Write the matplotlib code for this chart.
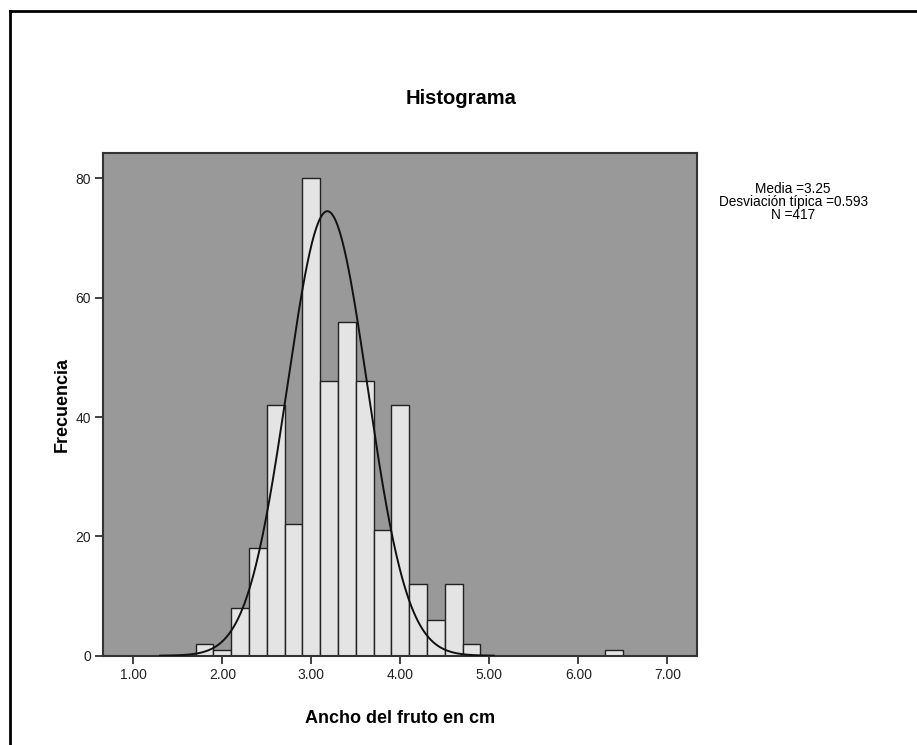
import numpy as np
import matplotlib
matplotlib.use("Agg")
import matplotlib.pyplot as plt
from matplotlib.lines import Line2D

plt.rcParams['font.family'] = ['Liberation Sans', 'DejaVu Sans']

# bins of width 0.2 (left edges) and their counts
bin_left = [1.7, 1.9, 2.1, 2.3, 2.5, 2.7, 2.9, 3.1, 3.3, 3.5, 3.7, 3.9,
            4.1, 4.3, 4.5, 4.7, 4.9, 5.1, 5.3, 5.5, 5.7, 5.9, 6.1, 6.3]
counts = [2, 1, 8, 18, 42, 22, 80, 46, 56, 46, 21, 42,
          12, 6, 12, 2, 0, 0, 0, 0, 0, 0, 0, 1]
bin_width = 0.2

# normal curve as drawn in the picture
fit_mean = 3.18
fit_sd = 0.45
fit_peak = 74.5

stats_lines = ["Media =3.25", "Desviación típica =0.593", "N =417"]
xticks = [1, 2, 3, 4, 5, 6, 7]
yticks = [0, 20, 40, 60, 80]

fig = plt.figure(figsize=(9.17, 7.45), dpi=100)
ax = fig.add_axes([0.1127, 0.1199, 0.6471, 0.6751])
ax.set_facecolor('#999999')

ax.bar(bin_left, counts, width=bin_width, align='edge',
       color='#e4e4e4', edgecolor='#222222', linewidth=1.0, zorder=2)

xs = np.linspace(1.3, 5.05, 300)
ys = fit_peak * np.exp(-0.5 * ((xs - fit_mean) / fit_sd) ** 2)
ax.plot(xs, ys, color='#111111', linewidth=1.4, zorder=3)

ax.set_xlim(0.663, 7.33)
ax.set_ylim(0, 84.3)
ax.set_xticks(xticks)
ax.set_xticklabels([f"{t:.2f}" for t in xticks])
ax.set_yticks(yticks)
ax.tick_params(axis='both', direction='out', length=6, width=1.3,
               color='#333333', labelsize=10, labelcolor='#222222', pad=3)
for s in ax.spines.values():
    s.set_color('#333333')
    s.set_linewidth(1.5)

ax.set_xlabel("Ancho del fruto en cm", fontsize=13, fontweight='bold', labelpad=20)
ax.set_ylabel("Frecuencia", fontsize=13, fontweight='bold', labelpad=3)

fig.text(0.5025, 0.868, "Histograma", ha='center', va='center',
         fontsize=14.5, fontweight='bold')

fig.text(0.865, 0.729, "\n".join(stats_lines), ha='center', va='center',
         fontsize=9.8, linespacing=0.92)

# outer frame (top and left edges)
fig.add_artist(Line2D([9.5 / 917, 1], [1 - 11 / 745, 1 - 11 / 745],
                      transform=fig.transFigure, color='black', linewidth=2))
fig.add_artist(Line2D([9.5 / 917, 9.5 / 917], [0, 1 - 11 / 745],
                      transform=fig.transFigure, color='black', linewidth=2))

fig.savefig("out.png", dpi=100, facecolor='white')
